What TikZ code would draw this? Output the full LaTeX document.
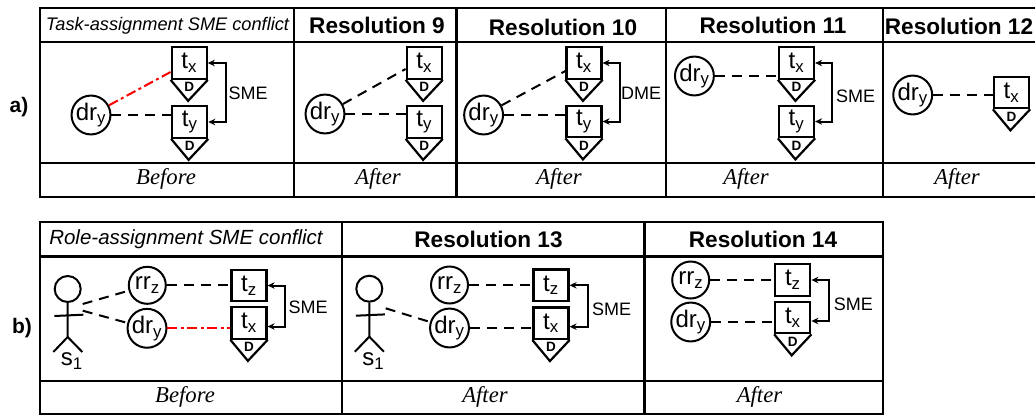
\documentclass[tikz,border=0pt]{standalone}
\usepackage{fontspec}
\setmainfont{Liberation Sans}
\newfontfamily\capfont{Liberation Serif}
\usetikzlibrary{arrows.meta,positioning}

\tikzset{
  grid/.style={line width=2.2pt,line cap=rect},
  role/.style={circle,draw=black,line width=2pt,minimum size=37pt,inner sep=0pt,font=\fontsize{24}{26}\selectfont},
  task/.style={rectangle,draw=black,line width=2.2pt,minimum width=35pt,minimum height=31.5pt,inner sep=0pt,font=\fontsize{24}{26}\selectfont},
  assign/.style={dash pattern=on 10pt off 7pt,line width=2pt},
  conflict/.style={red,dash pattern=on 10pt off 3.5pt on 3pt off 3.5pt,line width=2pt},
  melink/.style={{Stealth[length=7pt,width=6.5pt]}-{Stealth[length=7pt,width=6.5pt]},line width=2pt},
  melabel/.style={font=\fontsize{18}{20}\selectfont},
  rowlabel/.style={font=\bfseries\fontsize{21}{24}\selectfont},
  restitle/.style={font=\bfseries\fontsize{22.6}{25}\selectfont},
  caption/.style={font=\capfont\itshape\fontsize{22.7}{25}\selectfont}
}

% task with data object below: rectangle plus D tip
\newcommand{\dtask}[4]{
  \node[task] (#1) at (#2,#3) {t\textsubscript{#4}};
  \draw[line width=2.2pt,line join=miter] (#1.south west) -- ++(17.5,21) -- (#1.south east);
  \node[inner sep=0pt,font=\bfseries\fontsize{13.5}{14}\selectfont] (#1d) at (#2,#3+24) {D};
}
% stick figure, head centre given
\newcommand{\actor}[3]{
  \node[circle,draw=black,line width=2pt,minimum size=26pt,inner sep=0pt] (#1) at (#2,#3) {};
  \draw[line width=2pt] (#1.south) -- ++(0,34) coordinate (#1h) -- ++(-14.4,15);
  \draw[line width=2pt] (#1h) -- ++(14.6,15);
  \draw[line width=2pt] (#2-13.4,#3+27) -- (#2+15.6,#3+25.7);
  \node[font=\fontsize{24}{26}\selectfont] (#1l) at (#2+4,#3+72) {s\textsubscript{1}};
}

\begin{document}
\begin{tikzpicture}[x=1pt,y=-1pt]
\useasboundingbox (0,0) rectangle (1035,415);

% table a)
\draw[grid] (1040,8) -- (40,8) -- (40,197) -- (1040,197);
\draw[grid] (40,42) -- (1040,42);
\draw[grid] (40,163) -- (1040,163);
\foreach \x in {294,456.5,666,883} {
  \draw[grid] (\x,8) -- (\x,197);
}
% table b)
\draw[grid] (40,222) rectangle (883,414);
\draw[grid] (40,256.5) -- (883,256.5);
\draw[grid] (40,381) -- (883,381);
\foreach \x in {342.3,644.5} {
  \draw[grid] (\x,222) -- (\x,414);
}

\node[rowlabel] (rowa) at (19,107) {a)};
\node[rowlabel] (rowb) at (22,328) {b)};

% headers and captions
\node[font=\itshape\fontsize{18.2}{20}\selectfont] (heada) at (167.5,26) {Task-assignment SME conflict};
\node[font=\itshape\fontsize{20.5}{22}\selectfont] (headb) at (186,239.5) {Role-assignment SME conflict};
\foreach \nm/\x/\y/\num in {r9/377/25.5/9,r10/563/27/10,r11/773/25/11,r12/959/26.5/12,r13/488.5/239.5/13,r14/763/239.5/14} {
  \node[restitle] (\nm) at (\x,\y) {Resolution \num};
}
\node[caption] (capa) at (166,179) {Before};
\node[caption] (capb) at (185,396.5) {Before};
\foreach \nm/\x/\y in {c9/378/179,c10/559/179,c11/746/179,c12/957/178.5,c13/485/396.5,c14/759.5/396.5} {
  \node[caption] (\nm) at (\x,\y) {After};
}

% before a)
\node[role] (dra) at (91,115) {dr\textsubscript{y}};
\dtask{txa}{189.2}{63}{x}
\dtask{tya}{189.7}{122}{y}
\draw[conflict] (dra) -- ([yshift=-9pt]txa.west);
\draw[assign] (dra) -- (dra -| tya.west);
\draw[melink] (txa.east) -- ++(18,0) |- (tya.east);
\node[melabel] (smea) at (248,93) {SME};

% resolution 9
\node[role] (dr9) at (325,114) {dr\textsubscript{y}};
\dtask{tx9}{424.2}{63}{x}
\dtask{ty9}{424.2}{122}{y}
\draw[assign] (dr9) -- ([yshift=-6pt]tx9.west);
\draw[assign] (dr9) -- (dr9 -| ty9.west);

% resolution 10
\node[role] (dr10) at (483.6,115) {dr\textsubscript{y}};
\dtask{tx10}{584}{63}{x}
\dtask{ty10}{584}{121.5}{y}
\draw[assign] (dr10) -- ([yshift=-8pt]tx10.west);
\draw[assign] (dr10) -- (dr10 -| ty10.west);
\draw[melink] (tx10.east) -- ++(17,0) |- (ty10.east);
\node[melabel] (dme10) at (641,93) {DME};

% resolution 11
\node[role] (dr11) at (694.4,76) {dr\textsubscript{y}};
\dtask{tx11}{796.5}{63}{x}
\dtask{ty11}{796.5}{121.5}{y}
\draw[assign] (dr11) -- (dr11 -| tx11.west);
\draw[melink] (tx11.east) -- ++(17,0) |- (ty11.east);
\node[melabel] (sme11) at (855.6,96) {SME};

% resolution 12
\node[role] (dr12) at (912.7,95) {dr\textsubscript{y}};
\dtask{tx12}{1011.5}{92.5}{x}
\draw[assign] (dr12) -- (dr12 -| tx12.west);

% before b)
\actor{sb}{67.7}{289}
\node[role] (rrb) at (147.3,285.3) {rr\textsubscript{z}};
\node[role] (drb) at (147,328.3) {dr\textsubscript{y}};
\node[task] (tzb) at (249,285.5) {t\textsubscript{z}};
\dtask{txb}{249}{323}{x}
\coordinate (sbu) at (82.7,304);
\coordinate (sbd) at (82.7,310.7);
\draw[assign] (sbu) -- (rrb);
\draw[assign] (sbd) -- (drb);
\draw[assign] (rrb) -- (rrb -| tzb.west);
\draw[conflict] (drb) -- (drb -| txb.west);
\draw[melink] (tzb.east) -- ++(17.6,0) |- ([yshift=-3.5pt]txb.east);
\node[melabel] (smeb) at (308,307) {SME};

% resolution 13
\actor{s13}{369.3}{288.7}
\node[role] (rr13) at (449.5,285) {rr\textsubscript{z}};
\node[role] (dr13) at (449.5,328) {dr\textsubscript{y}};
\node[task] (tz13) at (551,285.3) {t\textsubscript{z}};
\dtask{tx13}{551}{323.2}{x}
\coordinate (s13u) at (385.7,308.3);
\draw[assign] (s13u) -- (dr13);
\draw[assign] (rr13) -- (rr13 -| tz13.west);
\draw[assign] (dr13) -- (dr13 -| tx13.west);
\draw[melink] (tz13.east) -- ++(18.3,0) |- ([yshift=-3.5pt]tx13.east);
\node[melabel] (sme13) at (611.7,309.3) {SME};

% resolution 14
\node[role] (rr14) at (690.7,280) {rr\textsubscript{z}};
\node[role] (dr14) at (690.7,322) {dr\textsubscript{y}};
\node[task] (tz14) at (792.8,280) {t\textsubscript{z}};
\dtask{tx14}{792.8}{317.5}{x}
\draw[assign] (rr14) -- (rr14 -| tz14.west);
\draw[assign] (dr14) -- (dr14 -| tx14.west);
\draw[melink] (tz14.east) -- ++(17.6,0) |- ([yshift=-3.5pt]tx14.east);
\node[melabel] (sme14) at (853.3,304) {SME};
\end{tikzpicture}
\end{document}
